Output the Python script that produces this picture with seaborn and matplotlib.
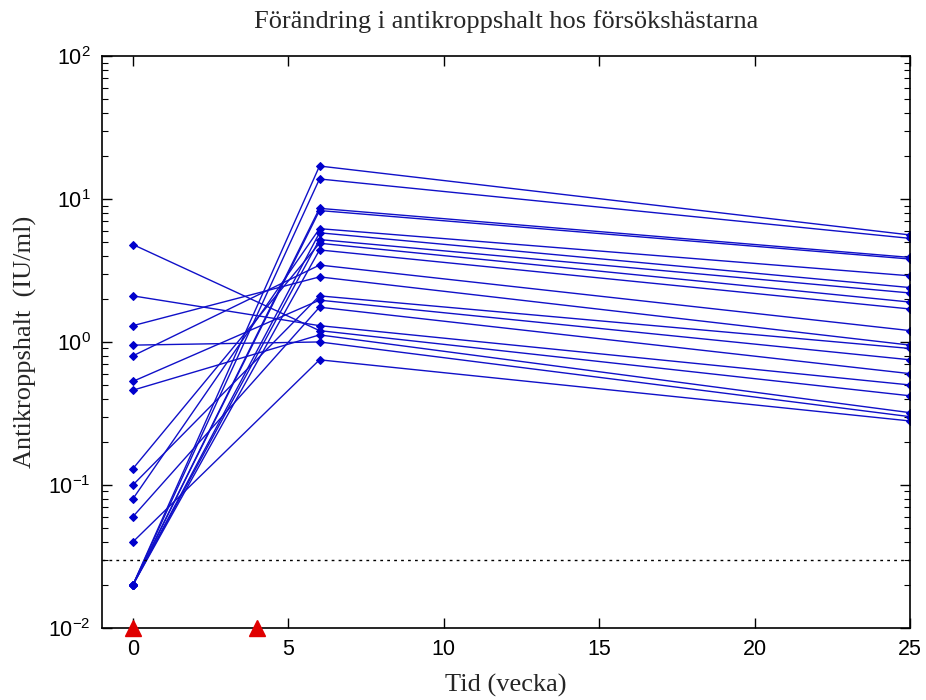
import numpy as np
import pandas as pd
import matplotlib
matplotlib.use("Agg")
import matplotlib.pyplot as plt
import seaborn as sns
from matplotlib.ticker import LogLocator

weeks = [0, 6, 25]
week0 = [4.8, 2.1, 1.3, 0.95, 0.8, 0.53, 0.46, 0.13, 0.1, 0.08, 0.06, 0.04,
         0.02, 0.02, 0.02, 0.02, 0.02, 0.02, 0.02]
week6 = [1.2, 1.3, 2.85, 1.0, 3.45, 1.96, 1.12, 4.9, 2.1, 6.2, 1.75, 0.75,
         17.0, 13.8, 8.6, 8.3, 5.8, 5.2, 4.4]
week25 = [0.42, 0.5, 0.95, 0.3, 1.2, 0.75, 0.32, 1.9, 0.9, 2.9, 0.6, 0.28,
          5.6, 5.3, 3.9, 3.8, 2.4, 2.2, 1.7]
vaccination_weeks = [0, 4]
threshold = 0.03

rows = []
for i, vals in enumerate(zip(week0, week6, week25)):
    for w, v in zip(weeks, vals):
        rows.append({"horse": i, "week": w, "value": v})
df = pd.DataFrame(rows)

sns.set_style("white")
fig = plt.figure(figsize=(9.26, 7.0), dpi=100)
ax = fig.add_axes([0.110, 0.103, 0.873, 0.817])

sns.lineplot(data=df, x="week", y="value", units="horse", estimator=None,
             color="#1010c8", lw=1.0, marker="D", markersize=4.5,
             markeredgecolor="#0000cc", markerfacecolor="#0000cc",
             ax=ax, legend=False, sort=False)

ax.set_yscale("log")
ax.set_xlim(-1, 25)
ax.set_ylim(0.01, 100)
ax.axhline(threshold, color="black", ls=(0, (2, 3)), lw=1.0)
ax.plot(vaccination_weeks, [0.01] * len(vaccination_weeks), linestyle="none",
        marker="^", color="#e00000", markersize=11, clip_on=False, zorder=5)

ax.set_xticks([0, 5, 10, 15, 20, 25])
ax.yaxis.set_major_locator(LogLocator(base=10, numticks=10))
ax.yaxis.set_minor_locator(LogLocator(base=10, subs=np.arange(2, 10), numticks=20))
ax.tick_params(axis="both", which="both", direction="in", top=True, right=True,
               left=True, bottom=True, labelsize=15.5, colors="black")
ax.tick_params(axis="x", which="both", pad=8)
ax.tick_params(axis="y", which="both", pad=8)
ax.tick_params(which="major", length=7, width=1)
ax.tick_params(which="minor", length=4, width=0.8)
for lab in ax.get_xticklabels() + ax.get_yticklabels():
    lab.set_fontfamily("Liberation Sans")
for s in ax.spines.values():
    s.set_color("black")
    s.set_linewidth(1.2)

serif = "Liberation Serif"
ax.set_title("Förändring i antikroppshalt hos försökshästarna", fontsize=19,
             fontfamily=serif, pad=20)
ax.set_xlabel("Tid (vecka)", fontsize=19, fontfamily=serif, labelpad=10)
ax.set_ylabel("Antikroppshalt  (IU/ml)", fontsize=19, fontfamily=serif, labelpad=8)

fig.savefig("out.png", dpi=100, facecolor="white")
